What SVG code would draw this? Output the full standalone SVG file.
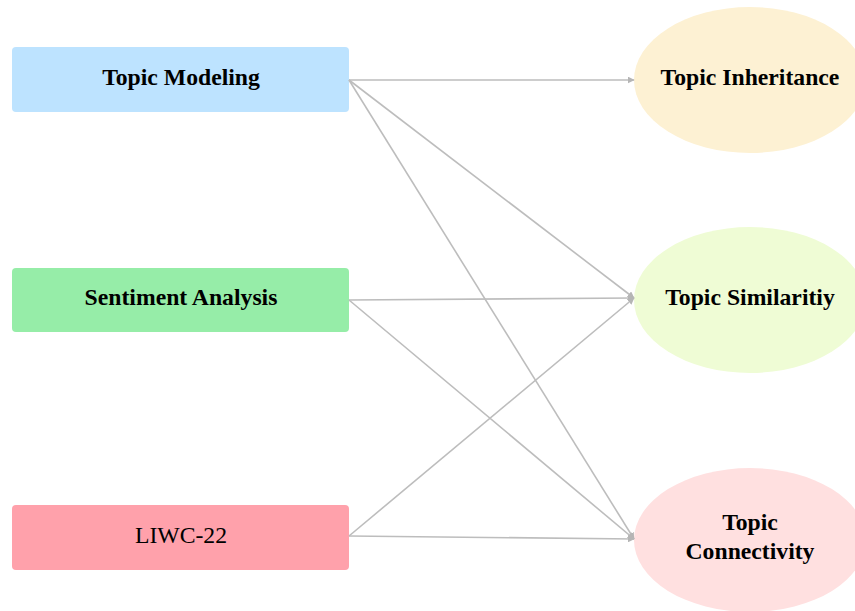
<svg xmlns="http://www.w3.org/2000/svg" width="855" height="611" viewBox="0 0 855 611">
<style>
text{font-family:"Liberation Serif","Times New Roman",serif;font-size:23.7px;fill:#000;text-anchor:middle;dominant-baseline:central}
.b{font-weight:bold}
.c line{stroke:#bdbdbd;stroke-width:1.6;fill:none}
</style>
<defs>
<marker id="ah" viewBox="0 0 10 10" refX="9" refY="5" markerWidth="7" markerHeight="7" markerUnits="userSpaceOnUse" orient="auto">
<path d="M0,0 L10,5 L0,10 z" fill="#b5b5b5"/>
</marker>
</defs>
<rect width="855" height="611" fill="#fff"/>
<g id="n1"><rect x="12" y="47" width="337" height="65" rx="4" fill="#bde3ff"/><text class="b" x="181" y="77">Topic Modeling</text></g>
<g id="n2"><rect x="12" y="268" width="337" height="64" rx="4" fill="#96eda8"/><text class="b" x="181" y="297">Sentiment Analysis</text></g>
<g id="n3"><rect x="12" y="505" width="337" height="65" rx="4" fill="#ffa1ab"/><text x="181" y="535">LIWC-22</text></g>
<g id="n4"><ellipse cx="750" cy="80" rx="116" ry="73" fill="#fdf1d3"/><text class="b" x="750" y="77">Topic Inheritance</text></g>
<g id="n5"><ellipse cx="750" cy="300" rx="116" ry="73" fill="#effcd5"/><text class="b" x="750" y="297">Topic Similaritiy</text></g>
<g id="n6"><ellipse cx="750" cy="540" rx="116" ry="72" fill="#ffe0e0"/><text class="b" x="750" y="522">Topic</text><text class="b" x="750" y="551">Connectivity</text></g>
<g class="c">
<line x1="349" y1="80" x2="634" y2="80" marker-end="url(#ah)"/>
<line x1="349" y1="80" x2="634" y2="298" marker-end="url(#ah)"/>
<line x1="349" y1="80" x2="634" y2="539" marker-end="url(#ah)"/>
<line x1="349" y1="300" x2="634" y2="298" marker-end="url(#ah)"/>
<line x1="349" y1="300" x2="634" y2="539" marker-end="url(#ah)"/>
<line x1="349" y1="536" x2="634" y2="298" marker-end="url(#ah)"/>
<line x1="349" y1="536" x2="634" y2="539" marker-end="url(#ah)"/>
</g>
</svg>
